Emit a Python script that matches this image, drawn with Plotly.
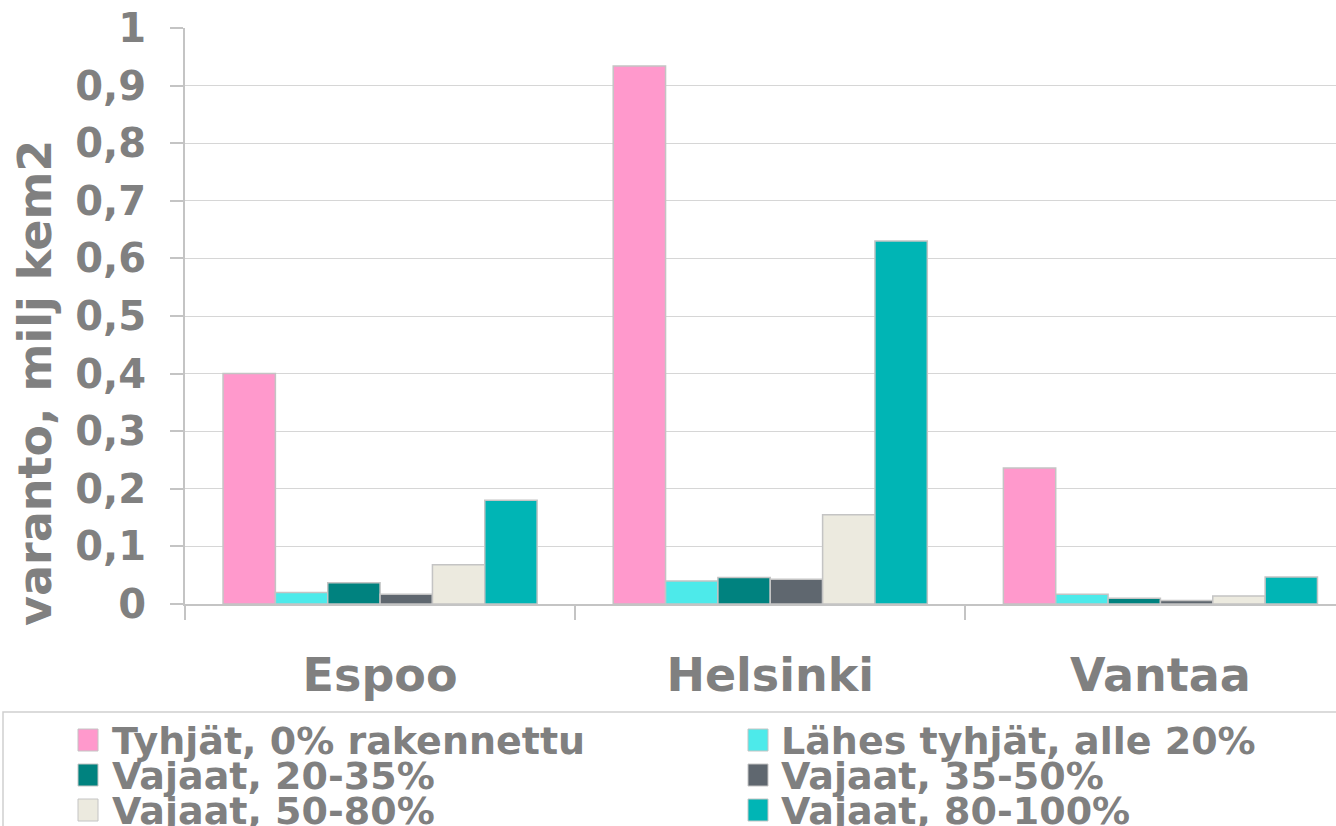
import plotly.graph_objects as go

categories = ["Espoo", "Helsinki", "Vantaa"]
series_names = [
    "Tyhjät, 0% rakennettu",
    "Lähes tyhjät, alle 20%",
    "Vajaat, 20-35%",
    "Vajaat, 35-50%",
    "Vajaat, 50-80%",
    "Vajaat, 80-100%",
]
tyhjat = [0.40, 0.934, 0.236]
lahes_tyhjat = [0.020, 0.040, 0.017]
vajaat_20_35 = [0.037, 0.046, 0.010]
vajaat_35_50 = [0.017, 0.043, 0.006]
vajaat_50_80 = [0.068, 0.155, 0.014]
vajaat_80_100 = [0.180, 0.630, 0.047]
series_values = [tyhjat, lahes_tyhjat, vajaat_20_35, vajaat_35_50, vajaat_50_80, vajaat_80_100]
colors = ["#FF99CC", "#4DEAEA", "#00827F", "#5F676F", "#ECEADF", "#00B5B5"]
y_ticks = [0, 0.1, 0.2, 0.3, 0.4, 0.5, 0.6, 0.7, 0.8, 0.9, 1]
y_tick_labels = ["0", "0,1", "0,2", "0,3", "0,4", "0,5", "0,6", "0,7", "0,8", "0,9", "1"]
y_title = "varanto, milj kem2"

GRAY = "#808080"
FONT = "DejaVu Sans"

fig = go.Figure()
for name, vals, col in zip(series_names, series_values, colors):
    fig.add_trace(go.Bar(
        x=categories, y=vals, name=name, showlegend=False,
        marker=dict(color=col, line=dict(color="#C4C4C4", width=1.5)),
    ))

W, H = 1336, 826
ml, mt, mb = 185, 28, 222
pw, ph = W - ml, H - mt - mb

def px_x(px):
    return (px - ml) / pw

def px_y(py):
    return (H - mb - py) / ph

# manual legend (two columns, row-wise)
shapes = [dict(type="rect", xref="paper", yref="paper",
               x0=px_x(3), x1=px_x(1340), y0=px_y(840), y1=px_y(712),
               line=dict(color="#CFCFCF", width=1.5), fillcolor="rgba(0,0,0,0)")]
annotations = []
col_sw = [78, 748]
col_tx = [110, 779]
row_top = [729, 764, 799]
for i, (name, col) in enumerate(zip(series_names, colors)):
    r, c = divmod(i, 2)
    shapes.append(dict(type="rect", xref="paper", yref="paper",
                       x0=px_x(col_sw[c]), x1=px_x(col_sw[c] + 20),
                       y0=px_y(row_top[r] + 22), y1=px_y(row_top[r]),
                       fillcolor=col, line=dict(color="#C4C4C4", width=1)))
    annotations.append(dict(xref="paper", yref="paper", x=px_x(col_tx[c]),
                            y=px_y(row_top[r] + 12), xanchor="left", yanchor="middle",
                            text=name, showarrow=False,
                            font=dict(family=FONT, size=38, color=GRAY, weight="bold")))

# y-axis title (placed like the reference, lower than the plot centre)
annotations.append(dict(xref="paper", yref="paper", x=px_x(35), y=px_y(383),
                        xanchor="center", yanchor="middle", textangle=-90,
                        text=y_title, showarrow=False,
                        font=dict(family=FONT, size=46, color=GRAY, weight="bold")))

fig.update_layout(
    width=W, height=H,
    margin=dict(l=ml, r=0, t=mt, b=mb, pad=0),
    paper_bgcolor="white", plot_bgcolor="white",
    barmode="group", bargap=0.195, bargroupgap=0,
    shapes=shapes, annotations=annotations,
    showlegend=False,
)
fig.update_xaxes(
    range=[-0.5, 2.45], showgrid=False, automargin=False,
    showline=True, linecolor="#C4C4C4", linewidth=2,
    ticks="outside", tickson="boundaries", ticklen=14, tickcolor="#C4C4C4", tickwidth=1.5,
    tickfont=dict(family=FONT, size=46, color=GRAY, weight="bold"),
    ticklabelstandoff=30,
)
fig.update_yaxes(
    range=[0, 1], tickvals=y_ticks, ticktext=y_tick_labels, automargin=False,
    showgrid=True, gridcolor="#D6D6D6", gridwidth=1, zeroline=False,
    showline=True, linecolor="#C4C4C4", linewidth=2,
    ticks="outside", ticklen=13, tickcolor="#C4C4C4", tickwidth=1.5,
    tickfont=dict(family=FONT, size=40, color=GRAY, weight="bold"),
    ticklabelstandoff=16,
)

fig.write_html(
    "out.html",
    config={"displayModeBar": False},
    post_script="document.body.style.margin='0';document.body.style.overflow='hidden';",
)
